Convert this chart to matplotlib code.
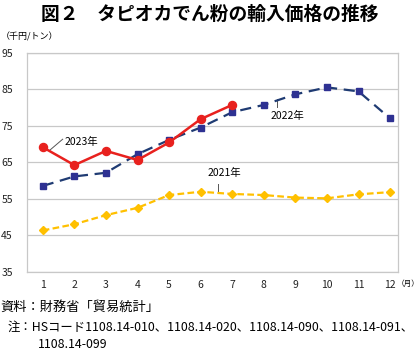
import matplotlib
matplotlib.use("Agg")
import matplotlib.pyplot as plt

plt.rcParams['font.family'] = ['Noto Sans CJK JP', 'DejaVu Sans']

# === Data ===
months = list(range(1, 13))
month_labels = [str(m) for m in months]
y2021 = [46.3, 48.0, 50.5, 52.5, 56.0, 56.9, 56.3, 56.0, 55.3, 55.1, 56.2, 56.8]
y2022 = [58.5, 61.1, 62.1, 67.2, 71.1, 74.5, 78.7, 80.7, 83.6, 85.5, 84.4, 77.0]
y2023 = [69.1, 64.2, 68.1, 65.6, 70.4, 76.8, 80.7]
yticks = [35, 45, 55, 65, 75, 85, 95]

W, H = 420, 354
fig = plt.figure(figsize=(W / 100, H / 100), dpi=100)
ax = fig.add_axes([27 / W, 1 - 271.7 / H, (398 - 27) / W, (271.7 - 52.7) / H])

ax.plot(months, y2021, color='#FFC000', lw=1.6, ls=(0, (3, 1.5)),
        marker='D', ms=4.5, mfc='#FFC000', mec='#FFC000', zorder=3)
ax.plot(months, y2022, color='#1F3B73', lw=1.6, ls=(0, (5, 3)),
        marker='s', ms=4.8, mfc='#2E3192', mec='#2E3192', zorder=4)
ax.plot(months[:len(y2023)], y2023, color='#E8211E', lw=1.8,
        marker='o', ms=5.8, mfc='#E8211E', mec='#E8211E', zorder=5)

ax.set_xlim(0.5, 12.25)
ax.set_ylim(35, 95)
ax.set_yticks(yticks)
ax.set_xticks(months)
ax.set_xticklabels(month_labels)
ax.tick_params(length=0, labelsize=7.5, colors='#222222')
ax.tick_params(axis='y', pad=18.5)
ax.tick_params(axis='x', pad=6)
for lbl in ax.get_yticklabels():
    lbl.set_horizontalalignment('left')
ax.grid(axis='y', color='#C8C8C8', lw=0.9)
ax.set_axisbelow(True)
for s in ax.spines.values():
    s.set_color('#C8C8C8')
    s.set_linewidth(0.9)

# series labels with leader lines
lead = dict(color='#555555', lw=0.7)
ax.plot([1.21, 1.63], [68.2, 71.3], **lead)
ax.text(1.68, 70.6, '2023年', fontsize=7.5, va='center', ha='left')
ax.plot([8.42, 8.42], [80.2, 82.2], **lead)
ax.text(8.2, 77.7, '2022年', fontsize=7.5, va='center', ha='left')
ax.plot([6.54, 6.54], [57.2, 59.0], **lead)
ax.text(6.22, 62.1, '2021年', fontsize=7.5, va='center', ha='left')

# titles and notes
fig.text(0.5, 1 - 14 / H, '図２　タピオカでん粉の輸入価格の推移', ha='center', va='center',
         fontsize=13.5, fontweight='bold')
fig.text(1 / W, 1 - 37 / H, '（千円/トン）', ha='left', va='center', fontsize=6.5)
fig.text(420 / W, 1 - 284 / H, '（月）', ha='right', va='center', fontsize=5.5)
fig.text(0 / W, 1 - 307 / H, '資料：財務省「貿易統計」', ha='left', va='center', fontsize=9.5)
fig.text(8 / W, 1 - 327 / H,
         '注：HSコード1108.14-010、1108.14-020、1108.14-090、1108.14-091、',
         ha='left', va='center', fontsize=8.9)
fig.text(38 / W, 1 - 344 / H, '1108.14-099', ha='left', va='center', fontsize=8.9)

fig.savefig('out.png', dpi=100)
